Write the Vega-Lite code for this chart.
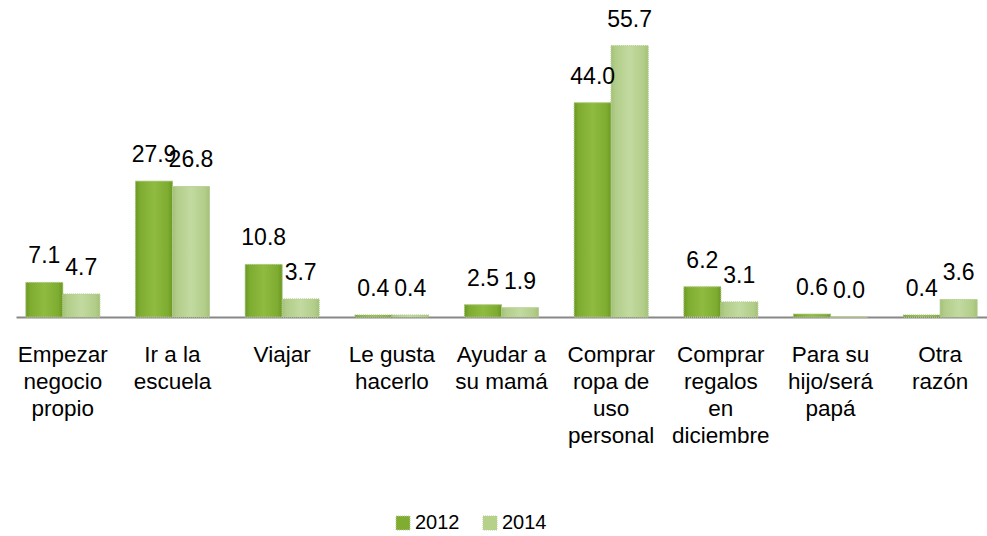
{
  "$schema": "https://vega.github.io/schema/vega-lite/v6.json",
  "autosize": "none",
  "width": 971,
  "height": 317,
  "padding": {"left": 16, "top": 0, "right": 0, "bottom": 219},
  "background": "white",
  "config": {"view": {"stroke": null}, "font": "Liberation Sans"},
  "data": {"values": [
    {"cat": "Empezar|negocio|propio", "year": "2012", "v": 7.1},
    {"cat": "Empezar|negocio|propio", "year": "2014", "v": 4.7},
    {"cat": "Ir a la|escuela", "year": "2012", "v": 27.9},
    {"cat": "Ir a la|escuela", "year": "2014", "v": 26.8},
    {"cat": "Viajar", "year": "2012", "v": 10.8},
    {"cat": "Viajar", "year": "2014", "v": 3.7},
    {"cat": "Le gusta|hacerlo", "year": "2012", "v": 0.4},
    {"cat": "Le gusta|hacerlo", "year": "2014", "v": 0.4},
    {"cat": "Ayudar a|su mamá", "year": "2012", "v": 2.5},
    {"cat": "Ayudar a|su mamá", "year": "2014", "v": 1.9},
    {"cat": "Comprar|ropa de|uso|personal", "year": "2012", "v": 44.0},
    {"cat": "Comprar|ropa de|uso|personal", "year": "2014", "v": 55.7},
    {"cat": "Comprar|regalos|en|diciembre", "year": "2012", "v": 6.2},
    {"cat": "Comprar|regalos|en|diciembre", "year": "2014", "v": 3.1},
    {"cat": "Para su|hijo/será|papá", "year": "2012", "v": 0.6},
    {"cat": "Para su|hijo/será|papá", "year": "2014", "v": 0.0},
    {"cat": "Otra|razón", "year": "2012", "v": 0.4},
    {"cat": "Otra|razón", "year": "2014", "v": 3.6}
  ]},
  "encoding": {
    "x": {"field": "cat", "type": "nominal", "sort": null,
      "scale": {"paddingInner": 0.326, "paddingOuter": 0.09},
      "axis": {"title": null, "labelAngle": 0, "labelExpr": "split(datum.label, '|')",
        "labelFontSize": 22.5, "labelColor": "#000", "labelLineHeight": 27, "labelBaseline": "top",
        "labelPadding": 26, "ticks": false, "domainColor": "#888888", "domainWidth": 2, "labelLimit": 200}},
    "xOffset": {"field": "year", "type": "nominal", "scale": {"domain": ["2012", "2014"]}},
    "y": {"field": "v", "type": "quantitative", "scale": {"domain": [0, 65.1]}, "axis": null}
  },
  "layer": [
    {"mark": {"type": "bar", "stroke": "#b9cf96", "strokeWidth": 1, "strokeDash": [1, 1]},
     "encoding": {"color": {"field": "year", "type": "nominal",
       "scale": {"range": ["#80ad31", "#b6d18a"]},
       "legend": {"title": null, "orient": "none", "legendX": 377, "legendY": 513, "direction": "horizontal", "padding": 0,
         "symbolType": "square", "symbolSize": 196, "labelFontSize": 20, "labelColor": "#000", "labelOffset": 2, "columnPadding": 20, "symbolStrokeWidth": 1, "symbolStrokeColor": "#b9cf96", "symbolDash": [1, 1]}}}},
    {"transform": [{"filter": "datum.year == '2012'"}],
     "mark": {"type": "bar", "stroke": "#b9cf96", "strokeWidth": 1, "strokeDash": [1, 1],
       "fill": {"gradient": "linear", "x1": 0, "x2": 1, "y1": 0, "y2": 0, "stops": [{"offset": 0, "color": "#6a9823"}, {"offset": 0.12, "color": "#7eac30"}, {"offset": 0.5, "color": "#8fbc40"}, {"offset": 0.88, "color": "#7eac30"}, {"offset": 1, "color": "#6a9823"}]}}},
    {"transform": [{"filter": "datum.year == '2014'"}],
     "mark": {"type": "bar", "stroke": "#b9cf96", "strokeWidth": 1, "strokeDash": [1, 1],
       "fill": {"gradient": "linear", "x1": 0, "x2": 1, "y1": 0, "y2": 0, "stops": [{"offset": 0, "color": "#a3c177"}, {"offset": 0.12, "color": "#b2cd89"}, {"offset": 0.5, "color": "#c2daa0"}, {"offset": 0.88, "color": "#b2cd89"}, {"offset": 1, "color": "#a3c177"}]}}},
    {"mark": {"type": "text", "baseline": "alphabetic", "dy": -19, "fontSize": 23, "color": "#000"},
     "encoding": {"text": {"field": "v", "type": "quantitative", "format": ".1f"}}}
  ]
}
